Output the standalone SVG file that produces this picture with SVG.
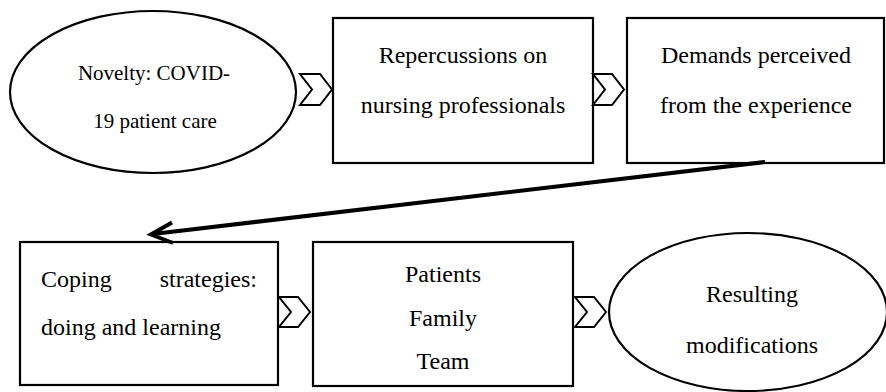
<svg xmlns="http://www.w3.org/2000/svg" width="886" height="392" viewBox="0 0 886 392">
<style>
.shape{fill:#fff;stroke:#000;stroke-width:2.2}
.chev{fill:#fff;stroke:#000;stroke-width:2;stroke-linejoin:miter}
text{font-family:'Liberation Serif','DejaVu Serif','Times New Roman',serif;font-size:24px;fill:#000}
.s{font-size:21px}
.m{text-anchor:middle}
.arrow{fill:none;stroke:#000;stroke-width:4;stroke-linecap:butt}
</style>
<rect width="886" height="392" fill="#fff"/>
<g id="node-novelty">
<ellipse class="shape" cx="153" cy="92" rx="143" ry="81"/>
<text class="s m" x="154" y="80" font-family="Liberation Serif, serif">Novelty: COVID-</text>
<text class="s m" x="155" y="128" font-family="Liberation Serif, serif">19 patient care</text>
</g>
<g id="node-repercussions">
<rect class="shape" x="333" y="18" width="260" height="145"/>
<text class="m" x="463" y="63">Repercussions on</text>
<text class="m" x="463" y="113">nursing professionals</text>
</g>
<g id="node-demands">
<rect class="shape" x="627" y="18" width="257" height="145"/>
<text class="m" x="756" y="63">Demands perceived</text>
<text class="m" x="756" y="113">from the experience</text>
</g>
<g id="node-coping">
<rect class="shape" x="20" y="242" width="258" height="143"/>
<text y="287"><tspan x="41">Coping</tspan><tspan x="257" text-anchor="end">strategies:</tspan></text>
<text x="41" y="335">doing and learning</text>
</g>
<g id="node-patients">
<rect class="shape" x="313" y="242" width="260" height="144"/>
<text class="m" x="443" y="282">Patients</text>
<text class="m" x="443" y="326">Family</text>
<text class="m" x="443" y="369">Team</text>
</g>
<g id="node-resulting">
<ellipse class="shape" cx="748" cy="312" rx="139" ry="79"/>
<text class="m" x="752" y="302">Resulting</text>
<text class="m" x="752" y="353">modifications</text>
</g>
<g id="connectors">
<polygon class="chev" points="300,74 320,74 332,89.5 320,105 300,105 312,89.5"/>
<polygon class="chev" points="593,74 612,74 624,89.5 612,105 593,105 605,89.5"/>
<polygon class="chev" points="279,297 298,297 310,312 298,327 279,327 291,312"/>
<polygon class="chev" points="575,297 594,297 606,312 594,327 575,327 587,312"/>
<path class="arrow" d="M765,162 L153,234"/>
<polyline class="arrow" points="172,222.5 151,234.5 173,243"/>
</g>
</svg>
